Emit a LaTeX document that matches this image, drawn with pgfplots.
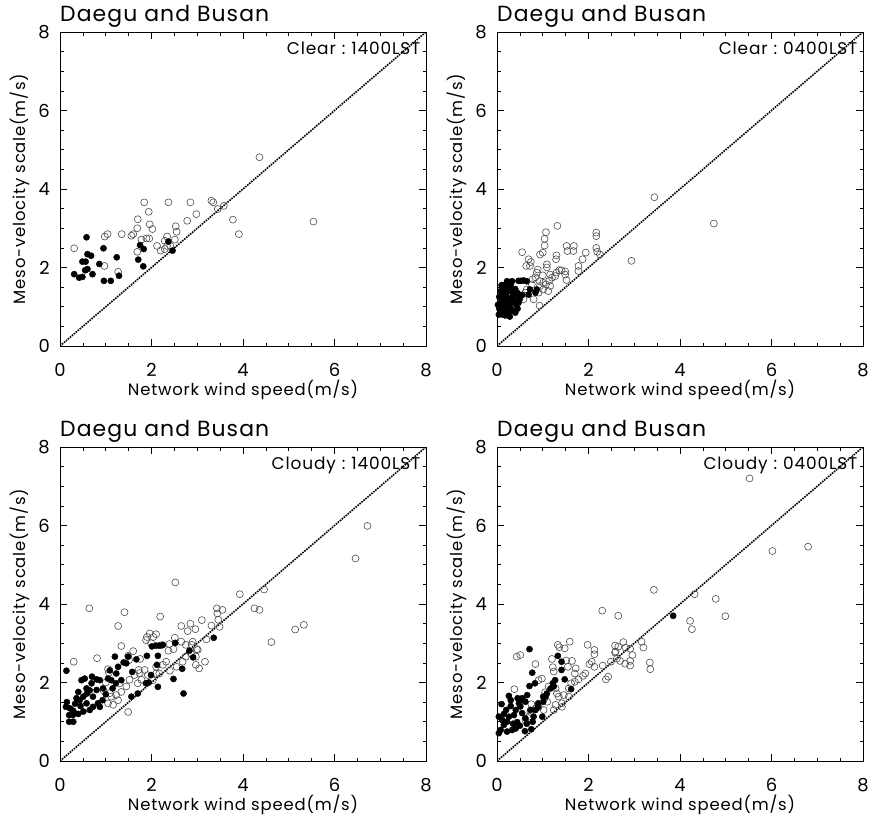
\documentclass[border=0pt]{standalone}
\usepackage{pgfplots}
\usepackage{pgfplotstable}
\pgfplotsset{compat=1.18}
\usepackage{fontspec}
\setmainfont{Poppins}
\newfontfamily\spaced[LetterSpace=5]{Poppins}

\pgfplotstableread{
x y
4.36 4.81
5.54 3.17
0.31 2.49
0.98 2.79
1.04 2.85
1.35 2.85
0.97 2.04
1.27 1.89
1.56 2.81
1.60 2.85
1.69 3.00
1.70 3.23
1.84 3.66
1.94 3.42
1.96 3.10
2.02 2.98
1.78 2.71
1.89 2.74
1.95 2.74
1.69 2.40
2.12 2.55
2.20 2.43
2.29 2.68
2.34 2.79
2.34 2.55
2.41 2.55
2.51 2.71
2.55 2.91
2.53 3.05
2.37 3.66
2.78 3.19
2.98 3.36
2.85 3.66
3.31 3.70
3.35 3.66
3.45 3.49
3.58 3.57
3.78 3.22
3.91 2.85
2.29 2.47
}\clearopen

\pgfplotstableread{
x y
0.58 2.77
0.31 1.83
0.42 1.74
0.49 1.76
0.49 2.15
0.56 2.15
0.60 2.34
0.68 2.30
0.55 1.93
0.60 1.96
0.71 1.83
0.86 2.09
0.95 2.49
0.96 1.66
1.11 1.66
1.24 2.26
1.29 1.79
1.75 2.57
1.83 2.47
1.71 2.20
1.82 2.03
2.37 2.66
2.46 2.43
}\clearfill

\pgfplotstableread{
x y
3.44 3.79
4.74 3.12
2.94 2.17
1.32 3.06
1.07 2.90
1.04 2.73
1.04 2.56
1.00 2.38
0.55 2.39
0.94 2.33
0.69 2.21
0.74 2.14
0.64 2.04
0.72 2.04
0.89 1.95
0.87 1.87
1.09 2.08
1.09 2.00
1.30 2.31
1.29 2.21
1.52 2.55
1.54 2.42
1.68 2.55
1.67 2.42
1.36 1.93
1.41 1.93
1.49 1.90
1.49 1.82
1.52 1.68
1.30 1.87
1.27 1.78
1.16 1.82
1.20 1.74
1.14 1.66
1.16 1.53
1.07 1.57
1.01 1.61
0.93 1.65
0.94 1.53
0.91 1.36
0.80 1.19
1.01 1.44
1.12 1.40
1.78 2.04
1.78 1.91
1.87 2.21
1.94 2.38
2.17 2.89
2.17 2.80
2.17 2.50
2.19 2.40
2.25 2.33
0.93 1.03
0.58 1.19
0.62 1.36
0.65 1.44
0.76 1.57
0.84 1.75
0.78 1.70
1.00 1.80
}\clearnightopen

\pgfplotstableread{
x y
0.22 1.65
0.28 1.62
0.33 1.65
0.47 1.66
0.52 1.66
0.58 1.67
0.65 1.65
0.72 1.44
0.69 1.31
0.87 1.44
0.84 1.36
0.55 1.30
0.50 1.20
0.45 1.35
0.40 1.45
0.35 1.28
0.30 1.40
0.25 1.50
0.20 1.35
0.15 1.45
0.10 1.30
0.05 1.25
0.08 1.10
0.12 1.20
0.18 1.15
0.22 1.25
0.28 1.20
0.32 1.10
0.38 1.15
0.42 1.05
0.47 1.10
0.05 0.95
0.10 0.90
0.15 1.00
0.20 0.95
0.25 1.05
0.30 0.95
0.35 0.90
0.40 0.85
0.12 0.80
0.18 0.78
0.25 0.82
0.04 0.80
0.08 1.40
0.15 1.55
0.30 1.55
0.38 1.32
0.02 1.05
0.45 0.95
0.28 0.75
0.10 1.55
0.22 0.88
0.35 1.40
0.48 1.25
}\clearnightfill

\pgfplotstableread{
x y
6.72 5.99
6.46 5.16
2.52 4.55
3.93 4.25
4.46 4.37
0.64 3.89
1.41 3.79
1.27 3.44
2.19 3.68
4.25 3.89
4.36 3.85
5.14 3.35
5.33 3.47
4.62 3.03
3.43 3.89
3.55 3.85
3.44 3.76
3.46 3.60
3.49 3.42
3.10 3.59
2.85 3.50
2.96 3.36
2.79 3.31
2.65 3.44
2.51 3.14
2.65 3.04
2.75 2.96
1.90 3.16
1.96 3.25
2.04 3.16
2.10 3.23
2.37 2.81
2.48 2.85
2.39 2.98
0.30 2.53
0.81 2.62
1.34 2.93
1.05 2.34
1.07 2.25
1.49 2.68
1.51 2.57
1.88 3.08
1.99 3.00
1.75 2.60
1.74 2.24
1.78 2.07
1.72 2.32
2.97 2.45
3.04 2.36
3.17 2.53
2.97 2.66
2.99 2.85
2.88 2.96
1.49 1.25
2.10 2.40
2.17 2.23
2.25 2.45
2.32 2.53
2.68 2.53
2.75 2.66
2.86 2.74
2.90 3.04
3.01 2.83
1.45 1.90
1.30 1.98
1.23 1.68
1.12 1.64
1.09 1.73
1.05 1.47
1.16 1.43
1.27 1.55
1.34 1.76
1.52 2.07
1.63 2.19
1.70 1.98
1.85 2.32
1.92 2.19
2.03 2.06
2.10 2.23
3.31 3.45
3.20 3.10
1.60 2.80
2.22 2.95
0.95 1.80
1.00 2.00
2.55 2.40
2.40 2.30
}\cloudyopen

\pgfplotstableread{
x y
0.14 2.30
3.36 3.14
2.70 1.72
2.48 2.09
2.67 2.35
2.91 2.64
2.83 2.81
2.52 3.01
2.25 2.96
2.17 2.94
2.10 2.94
2.01 2.92
2.14 2.68
2.12 2.45
2.14 1.89
1.90 2.68
1.99 2.19
1.94 2.00
1.88 1.98
1.70 1.72
1.56 1.64
1.67 2.59
1.58 2.27
1.45 2.49
1.49 2.66
1.39 2.51
1.27 2.40
1.23 2.23
1.34 2.06
1.20 2.66
1.09 2.31
1.12 2.06
1.22 1.98
0.20 1.17
0.28 1.17
0.20 1.00
0.29 1.00
0.13 1.38
0.22 1.34
0.33 1.46
0.43 1.55
0.51 1.64
0.59 1.72
0.40 1.76
0.47 2.06
0.54 2.10
0.58 1.85
0.69 1.98
0.72 1.64
0.80 1.81
0.83 1.47
0.87 1.38
0.72 1.38
0.65 1.30
0.51 1.26
0.40 1.20
0.29 1.28
0.87 2.06
0.94 1.85
0.80 2.08
0.93 1.55
0.58 1.47
0.65 1.80
0.36 1.60
0.70 2.15
1.00 1.70
0.45 1.40
0.15 1.50
1.05 2.10
1.15 1.85
}\cloudyfill

\pgfplotstableread{
x y
5.52 7.20
6.02 5.35
6.80 5.46
3.43 4.36
4.32 4.25
4.78 4.13
4.99 3.69
4.22 3.57
4.26 3.36
2.30 3.83
2.65 3.70
3.34 2.51
3.35 2.34
0.43 2.66
0.51 2.70
0.84 2.47
0.38 1.83
0.91 2.06
1.33 2.96
1.36 2.90
1.59 3.04
1.48 2.87
1.98 2.96
2.13 2.83
2.13 2.72
1.20 2.60
1.22 2.39
1.24 2.28
1.51 2.56
1.64 2.55
1.55 2.40
1.72 2.36
1.70 2.23
1.93 2.23
1.88 2.17
2.02 2.47
2.07 2.53
2.13 2.40
2.31 2.43
2.38 2.08
2.43 2.15
2.49 2.53
2.58 2.76
2.58 2.94
2.65 2.91
2.76 3.03
2.81 2.89
2.91 2.86
3.16 3.04
3.20 2.89
2.96 2.70
2.91 2.55
2.80 2.48
2.69 2.55
2.59 2.79
2.62 2.61
2.91 2.43
1.28 1.85
1.31 1.72
1.35 1.64
1.46 1.68
1.57 1.85
1.62 1.98
1.70 2.02
1.78 2.08
1.57 1.64
1.42 1.47
1.28 1.43
1.04 1.60
1.10 1.51
1.02 1.30
1.24 1.30
1.42 1.38
0.62 1.05
0.70 1.13
0.73 1.25
0.84 1.34
0.91 1.38
1.13 1.90
1.05 1.75
0.98 2.10
0.75 1.45
}\cloudynightopen

\pgfplotstableread{
x y
3.85 3.70
0.71 2.85
0.77 2.25
0.71 1.91
0.83 1.98
0.26 1.66
1.33 2.68
1.41 2.53
1.41 2.32
1.48 2.08
1.62 1.83
1.24 1.90
1.17 1.85
1.09 1.72
1.06 1.64
1.01 1.64
1.01 1.51
0.90 1.38
0.84 1.30
1.27 2.06
1.22 1.98
0.04 1.13
0.12 1.04
0.08 0.79
0.04 0.71
0.15 0.92
0.22 1.00
0.26 1.13
0.37 1.17
0.41 1.30
0.48 1.47
0.55 1.56
0.62 1.51
0.51 1.39
0.55 1.22
0.62 1.09
0.80 1.13
0.73 1.30
0.44 0.99
0.33 0.79
0.41 0.83
0.22 0.75
0.61 0.76
0.75 0.81
0.99 1.13
0.78 1.00
0.90 1.47
0.66 1.68
0.55 1.60
0.30 1.40
0.20 1.30
0.10 1.45
0.35 0.95
0.50 0.90
0.15 1.20
0.65 0.95
0.45 1.60
0.30 1.55
}\cloudynightfill

\pgfplotstableread{
x y
0 0
8 8
}\oneline

\pgfplotsset{
  panel/.style={
    scale only axis, width=366bp, height=314bp,
    anchor=south west,
    xmin=0, xmax=8, ymin=0, ymax=8,
    xtick={0,2,4,6,8}, ytick={0,2,4,6,8},
    minor tick num=3,
    tick align=inside,
    major tick length=7bp, minor tick length=3.5bp,
    every tick/.style={black, line width=0.6bp},
    axis line style={line width=0.8bp},
    /pgf/number format/assume math mode=true,
    ticklabel style={font=\fontsize{18}{18}\selectfont, inner sep=0pt},
    xticklabel style={anchor=center, yshift=-24bp},
    yticklabel style={anchor=east, xshift=-10bp},
    xlabel={Network wind speed(m/s)},
    ylabel={Meso-velocity scale(m/s)},
    label style={font=\spaced\fontsize{16.5}{17}\selectfont},
    xlabel style={at={(axis description cs:0.5,-0.14)}, anchor=center},
    ylabel style={at={(axis description cs:-0.109,0.5)}, anchor=center},
    title={Daegu and Busan},
    title style={at={(axis description cs:0,1)}, anchor=base west, yshift=5bp, inner sep=0pt, font=\spaced\fontsize{22}{22}\selectfont},
  },
  openpt/.style={only marks, mark=o, mark size=3.5bp, mark options={draw=black!70, line width=0.6bp}},
  fillpt/.style={only marks, mark=*, mark size=3.1bp, mark options={draw=black, fill=black}},
  diag/.style={black, densely dotted, line width=1.6bp},
  tag/.style={extra description/.code={\node[anchor=north east, inner sep=0pt, font=\spaced\fontsize{17}{17}\selectfont] at (0.985,0.968) {#1};}},
}

\begin{document}
\begin{tikzpicture}
\useasboundingbox (0,0) rectangle (870bp,-820bp);

\begin{axis}[panel, at={(60bp,-346bp)}, tag={Clear\hspace{6bp}:\hspace{6bp}1400LST}]
\addplot[diag] table {\oneline};
\addplot[openpt] table {\clearopen};
\addplot[fillpt] table {\clearfill};
\end{axis}

\begin{axis}[panel, at={(497bp,-346bp)}, tag={Clear\hspace{6bp}:\hspace{6bp}0400LST}]
\addplot[diag] table {\oneline};
\addplot[openpt] table {\clearnightopen};
\addplot[fillpt] table {\clearnightfill};
\end{axis}

\begin{axis}[panel, at={(60bp,-761bp)}, tag={Cloudy\hspace{6bp}:\hspace{6bp}1400LST}]
\addplot[diag] table {\oneline};
\addplot[openpt] table {\cloudyopen};
\addplot[fillpt] table {\cloudyfill};
\end{axis}

\begin{axis}[panel, at={(497bp,-761bp)}, tag={Cloudy\hspace{6bp}:\hspace{6bp}0400LST}]
\addplot[diag] table {\oneline};
\addplot[openpt] table {\cloudynightopen};
\addplot[fillpt] table {\cloudynightfill};
\end{axis}
\end{tikzpicture}
\end{document}
